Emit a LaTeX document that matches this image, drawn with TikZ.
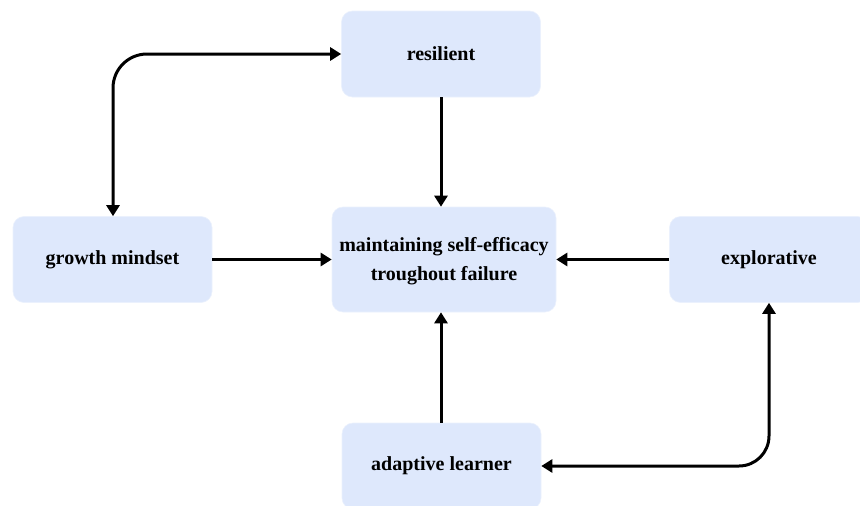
\documentclass[tikz,border=0pt]{standalone}
\usepackage{fontspec}
\setmainfont{Liberation Serif}[BoldFont={Liberation Serif Bold}]
\usetikzlibrary{arrows.meta}
\definecolor{boxfill}{RGB}{222,232,252}
\tikzset{
  box/.style={rounded corners=11pt, fill=boxfill, draw=boxfill!60!white, line width=0.6pt,
    minimum width=199pt, minimum height=86pt, align=center,
    font=\fontsize{20}{29}\selectfont\bfseries},
  conn/.style={line width=3pt, -{Triangle[length=11pt,width=13pt]}},
  conn2/.style={line width=3pt, {Triangle[length=11pt,width=13pt]}-{Triangle[length=11pt,width=13pt]}}
}
\begin{document}
\begin{tikzpicture}[x=1pt,y=-1pt]
  \useasboundingbox (0,0) rectangle (860,506);
  \node[box] (res) at (441,54) {resilient};
  \node[box] (grow) at (112.5,259.5) {growth mindset};
  \node[box, minimum width=224pt, minimum height=105pt] (core) at (444,259.5) {};
  \node[align=center, font=\fontsize{20}{29}\selectfont\bfseries] (coretext) at (444,261.5)
    {maintaining self-efficacy\\troughout failure};
  \node[box] (expl) at (769,259.5) {explorative};
  \node[box] (adapt) at (441.5,466) {adaptive learner};

  \draw[conn] (res.south -| 441,0) -- (441,0 |- core.north);
  \draw[conn] (441,0 |- adapt.north) -- (441,0 |- core.south);
  \draw[conn] (grow.east) -- (core.west |- grow.east);
  \draw[conn] (expl.west) -- (core.east |- expl.west);
  \draw[conn2, rounded corners=34pt] (res.west) -| (113,0 |- grow.north);
  \draw[conn2, rounded corners=30pt] (adapt.east) -| (769,0 |- expl.south);
\end{tikzpicture}
\end{document}
